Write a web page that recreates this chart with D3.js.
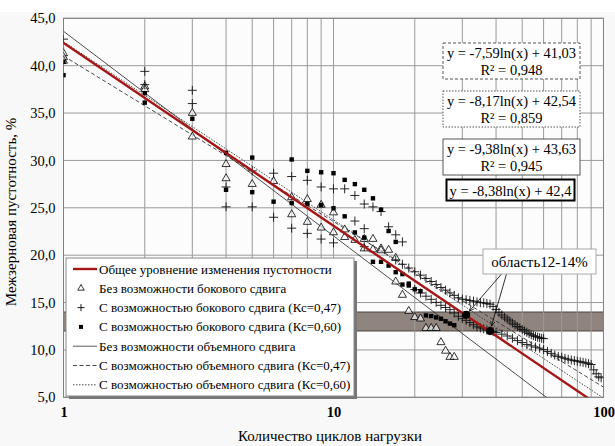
<!DOCTYPE html>
<html><head><meta charset="utf-8">
<script src="https://cdn.jsdelivr.net/npm/d3@7"></script>
<style>
body{margin:0;background:#fff;}
svg{display:block;}
svg text{font-family:"Liberation Serif","Liberation Sans",Arial,sans-serif;}
</style></head>
<body><svg id="c" width="615" height="446"></svg>
<script>
// ---------- data ----------
const yTicks = [5,10,15,20,25,30,35,40,45];
const xTickLabels = [1,10,100];
const xGrid = [1,2,3,4,5,6,7,8,9,10,20,30,40,50,60,70,80,90,100];
const band = [12,14];

// Без возможности бокового сдвига (triangles)
const triPts = [[1,41.3],[1,40.9],[1,40.5],[2,37.8],[2,37.5],[3,35.0],[3,32.5],[4,29.6],[4,28.1],[5,27.5],[6,27.8],
 [7,26.1],[7,24.3],[8,25.9],[8,23.5],[9,25.3],[9,22.9],[10,24.5],[10,22.4],[11,22.7],[11,21.9],[12,21.6],
 [13,21.7],[13,20.7],[14,21.7],[14,20.6],[15,20.7],[15,20.5],[16,20.55],[17,19.7],[17,17.2],[18,15.8],[19,14.1],
 [20,13.45],[21,13.3],[22,12.3],[23,12.3],[24,12.3],[25,10.8],[26,9.9],[27,9.25],[28,9.25]];

// С возможностью бокового сдвига (Кс=0,47) (plus)
const plusPts = [[1,42.8],[2,39.4],[2,38.0],[3,37.4],[3,36.0],[4,27.2],[4,25.1],[5,28.9],[5,25.1],[6,28.65],[6,24.0],
 [7,28.3],[7,22.85],[8,27.9],[8,22.3],[9,27.2],[9,21.7],[10,27.0],[10,21.3],[11,27.0],[12,26.3],[12,23.6],
 [13,25.4],[13,22.8],[13,20.9],[14,25.1],[15,24.6],[16,23.0],[17,22.15],[17,19.5],[18,21.4],
 // upper dense chain
 [18,19.04],[19,18.64],[20,18.25],[21,17.89],[22,17.54],[23,17.22],[24,16.9],[25,16.59],[26,16.31],[27,16.02],
 [28,15.76],[29,15.5],[30,15.36],[31,15.3],[32,15.22],[33,15.15],[34,15.07],[35,15.0],[36,14.97],[37,14.89],
 [38,14.82],[39,14.59],[40,14.27],[41,13.97],[42,13.69],[43,13.46],[44,13.25],[45,13.06],[46,12.83],[47,12.66],
 [48,12.47],[49,12.33],[50,12.16],[51,12.01],[52,11.87],[53,11.73],[54,11.61],[55,11.51],[56,11.42],[57,11.35],
 [58,11.29],[59,11.23],[60,11.19],
 // lower dense chain
 [20,16.37],[21,16.01],[22,15.67],[23,15.34],[24,15.02],[25,14.71],[26,14.48],[27,14.25],[28,13.9],[29,13.55],
 [30,13.3],[31,13.12],[32,12.89],[33,12.66],[34,12.44],[35,12.33],[36,12.23],[37,12.12],[38,12.03],[39,11.93],
 [40,11.84],[42,11.66],[44,11.47],[46,11.24],[48,10.98],[50,10.78],[52,10.58],[54,10.43],[56,10.29],[58,10.19],
 [60,10.03],[62,9.84],[64,9.64],[66,9.46],[68,9.32],[70,9.22],[72,9.11],[74,9.01],[76,8.93],[78,8.87],[80,8.81],
 [82,8.75],[84,8.69],[86,8.63],[88,8.55],[90,8.46],[92,7.9],[94,7.48],[96,7.16],[98,7.06]];

// С возможностью бокового сдвига (Кс=0,60) (squares)
const sqPts = [[1,40.4],[1,39.0],[2,37.1],[2,36.1],[3,34.4],[4,30.8],[4,26.9],[5,30.3],[5,26.65],[6,25.65],
 [7,30.1],[7,25.5],[8,28.9],[8,25.4],[9,28.75],[9,25.3],[10,28.65],[10,24.95],[11,27.95],[11,24.1],[12,27.5],[12,22.4],
 [13,26.9],[13,21.85],[14,26.0],[14,19.3],[15,24.8],[15,19.3],[16,22.55],[16,18.9],[17,21.4],[17,18.2],[18,18.0],
 [18,16.9],[19,17.0],[19,16.8],[20,16.4],[21,16.2],[22,13.64],[23,13.57],[24,13.43],[25,13.29],[26,13.02],
 [27,12.78],[28,12.61]];

// trend lines: [slope, intercept]
const trendGeneral = [-8.38, 42.4];
const trendNoShift = [-9.38, 43.63];
const trendKc047 = [-7.59, 41.03];
const trendKc060 = [-8.17, 42.54];
const r2Values = ["0,948","0,859","0,945"];

const areaPoints = [[31,13.7],[38,12.0]];
const areaLabel = "область12-14%";

const legendLabels = ["Общее уровнение изменения пустотности","Без возможности бокового сдвига",
 "С возможностью бокового сдвига (Кс=0,47)","С возможностью бокового сдвига (Кс=0,60)",
 "Без возможности объемного сдвига","С возможностью объемного сдвига (Кс=0,47)",
 "С возможностью объемного сдвига (Кс=0,60)"];

// ---------- drawing ----------
const svg = d3.select("#c");
const L=63.5,R=603.5,T=18.3,B=397.3;
const x = d3.scaleLog().domain([1,100]).range([L,R]);
const y = d3.scaleLinear().domain([5,45]).range([B,T]);
const fmt = d => d.toFixed(1).replace(".",",");
const fmtC = v => Math.abs(v).toFixed(2).replace(".",",");

svg.append("rect").attr("x",0).attr("y",12).attr("width",615).attr("height",434).attr("fill","#f8f8f8");
svg.append("rect").attr("x",L).attr("y",T).attr("width",R-L).attr("height",B-T).attr("fill","#fcfcfc");
svg.append("defs").append("clipPath").attr("id","pc").append("rect").attr("x",L).attr("y",T).attr("width",R-L).attr("height",B-T);

// band
svg.append("rect").attr("x",L).attr("width",R-L).attr("y",y(band[1])).attr("height",y(band[0])-y(band[1]))
  .attr("fill","#8f857e").attr("stroke","#4a4440").attr("stroke-width",1);

// grid
const g = svg.append("g");
g.selectAll(".vg").data(xGrid).join("line").attr("x1",d=>x(d)).attr("x2",d=>x(d)).attr("y1",T).attr("y2",B)
  .attr("stroke","#9a9a9a").attr("stroke-width",1);
g.selectAll(".hg").data(yTicks).join("line").attr("x1",L).attr("x2",R).attr("y1",d=>y(d)).attr("y2",d=>y(d))
  .attr("stroke","#9a9a9a").attr("stroke-width",1);
svg.append("rect").attr("x",L).attr("y",T).attr("width",R-L).attr("height",B-T).attr("fill","none").attr("stroke","#808080");

// axes
const ya = svg.append("g").attr("transform",`translate(${L},0)`).call(d3.axisLeft(y).tickValues(yTicks).tickSize(0).tickPadding(8).tickFormat(fmt));
ya.select(".domain").remove();
ya.selectAll("text").attr("font-size",14.5).attr("fill","#000");
const xa = svg.append("g").attr("transform",`translate(0,${B})`).call(d3.axisBottom(x).tickValues(xTickLabels).tickSize(0).tickPadding(9).tickFormat(d3.format("d")));
xa.select(".domain").remove();
xa.selectAll("text").attr("font-size",14.5).attr("font-weight","bold").attr("fill","#000");

svg.append("text").attr("x",330).attr("y",441).attr("text-anchor","middle").attr("font-size",15)
  .text("Количество циклов нагрузки");
svg.append("text").attr("transform","translate(16,212) rotate(-90)").attr("text-anchor","middle").attr("font-size",15)
  .text("Межзерновая пустотность, %");

// trend lines
const plot = svg.append("g").attr("clip-path","url(#pc)");
const tl = c => d3.line()([1,100].map(v=>[x(v), y(c[0]*Math.log(v)+c[1])]));
plot.append("path").attr("d",tl(trendNoShift)).attr("stroke","#222").attr("stroke-width",0.8).attr("fill","none");
plot.append("path").attr("d",tl(trendKc047)).attr("stroke","#333").attr("stroke-width",0.9).attr("stroke-dasharray","4,2.5").attr("fill","none");
plot.append("path").attr("d",tl(trendKc060)).attr("stroke","#333").attr("stroke-width",0.9).attr("stroke-dasharray","1.5,1.5").attr("fill","none");

// markers
const triPath = d3.symbol(d3.symbolTriangle, 28)();
plot.selectAll(".tri").data(triPts).join("path").attr("d",triPath)
  .attr("transform",d=>`translate(${x(d[0])},${y(d[1])})`).attr("fill","#fff").attr("fill-opacity",0.6).attr("stroke","#000").attr("stroke-width",0.8);
plot.selectAll(".pl").data(plusPts).join("path").attr("d","M-4.5,0H4.5M0,-4.5V4.5")
  .attr("transform",d=>`translate(${x(d[0])},${y(d[1])})`).attr("stroke","#111").attr("stroke-width",0.9);
plot.selectAll(".sq").data(sqPts).join("rect").attr("x",d=>x(d[0])-2.2).attr("y",d=>y(d[1])-2.2)
  .attr("width",4.4).attr("height",4.4).attr("fill","#000");

plot.append("path").attr("d",tl(trendGeneral)).attr("stroke","#a61616").attr("stroke-width",2.4).attr("fill","none");

// area points, label, arrows
plot.selectAll(".ap").data(areaPoints).join("circle").attr("cx",d=>x(d[0])).attr("cy",d=>y(d[1])).attr("r",4).attr("fill","#000");
const defs = svg.select("defs");
defs.append("marker").attr("id","ah").attr("viewBox","0 0 10 10").attr("refX",9).attr("refY",5)
  .attr("markerWidth",7).attr("markerHeight",7).attr("orient","auto")
  .append("path").attr("d","M0,1L9,5L0,9").attr("fill","none").attr("stroke","#000").attr("stroke-width",1.2);
const lbl = {x:483,y:249,w:113,h:25};
const starts = [[501.5,lbl.y+lbl.h],[506.5,lbl.y+lbl.h]];
areaPoints.forEach((p,i)=>{
  const ex=x(p[0]), ey=y(p[1]);
  const sx=starts[i][0], sy=starts[i][1];
  const dx=ex-sx, dy=ey-sy, len=Math.hypot(dx,dy), k=(len-5)/len;
  svg.append("line").attr("x1",sx).attr("y1",sy).attr("x2",sx+dx*k).attr("y2",sy+dy*k)
    .attr("stroke","#000").attr("stroke-width",0.8).attr("marker-end","url(#ah)");
});
svg.append("rect").attr("x",lbl.x).attr("y",lbl.y).attr("width",lbl.w).attr("height",lbl.h).attr("fill","#fff").attr("stroke","#aaa");
svg.append("text").attr("x",lbl.x+lbl.w/2).attr("y",lbl.y+17.5).attr("text-anchor","middle").attr("font-size",15).text(areaLabel);

// equation boxes
const eqs = [
  {c:trendKc047, r2:r2Values[0], y:43, dash:"3,2"},
  {c:trendKc060, r2:r2Values[1], y:91, dash:"1.5,1.5"},
  {c:trendNoShift, r2:r2Values[2], y:139, dash:null}
];
eqs.forEach(e=>{
  svg.append("rect").attr("x",443).attr("y",e.y).attr("width",137).attr("height",36).attr("fill","#fff")
    .attr("stroke","#444").attr("stroke-width",0.9).attr("stroke-dasharray",e.dash);
  svg.append("text").attr("x",511.5).attr("y",e.y+15).attr("text-anchor","middle").attr("font-size",14.5)
    .text(`y = -${fmtC(e.c[0])}ln(x) + ${fmtC(e.c[1])}`);
  svg.append("text").attr("x",511.5).attr("y",e.y+32).attr("text-anchor","middle").attr("font-size",14.5)
    .text(`R² = ${e.r2}`);
});
svg.append("rect").attr("x",446.5).attr("y",179.5).attr("width",128).attr("height",21).attr("fill","#fff")
  .attr("stroke","#000").attr("stroke-width",2);
svg.append("text").attr("x",510.5).attr("y",195.5).attr("text-anchor","middle").attr("font-size",14.5)
  .text(`y = -${fmtC(trendGeneral[0])}ln(x) + ${String(trendGeneral[1]).replace(".",",")}`);

// legend
const lg = {x:66,y:258,w:288,h:138};
svg.append("rect").attr("x",lg.x+3).attr("y",lg.y+3).attr("width",lg.w).attr("height",lg.h).attr("fill","#777");
svg.append("rect").attr("x",lg.x).attr("y",lg.y).attr("width",lg.w).attr("height",lg.h).attr("fill","#fff").attr("stroke","#888");
const rowY = i => 269 + i*19.3;
legendLabels.forEach((t,i)=>{
  svg.append("text").attr("x",99).attr("y",rowY(i)+4.5).attr("font-size",13).text(t);
});
const lx1=73, lx2=97, lxc=81;
svg.append("line").attr("x1",lx1).attr("x2",lx2).attr("y1",rowY(0)).attr("y2",rowY(0)).attr("stroke","#a61616").attr("stroke-width",2.4);
svg.append("path").attr("d",d3.symbol(d3.symbolTriangle,18)()).attr("transform",`translate(${lxc},${rowY(1)})`).attr("fill","none").attr("stroke","#000").attr("stroke-width",0.8);
svg.append("path").attr("d","M-3.5,0H3.5M0,-3.5V3.5").attr("transform",`translate(${lxc},${rowY(2)})`).attr("stroke","#000").attr("stroke-width",0.9);
svg.append("rect").attr("x",lxc-2).attr("y",rowY(3)-2).attr("width",4).attr("height",4).attr("fill","#000");
svg.append("line").attr("x1",lx1).attr("x2",lx2).attr("y1",rowY(4)).attr("y2",rowY(4)).attr("stroke","#333").attr("stroke-width",0.8);
svg.append("line").attr("x1",lx1).attr("x2",lx2).attr("y1",rowY(5)).attr("y2",rowY(5)).attr("stroke","#333").attr("stroke-width",0.9).attr("stroke-dasharray","4,2.5");
svg.append("line").attr("x1",lx1).attr("x2",lx2).attr("y1",rowY(6)).attr("y2",rowY(6)).attr("stroke","#333").attr("stroke-width",0.9).attr("stroke-dasharray","1.5,1.5");
</script></body></html>
